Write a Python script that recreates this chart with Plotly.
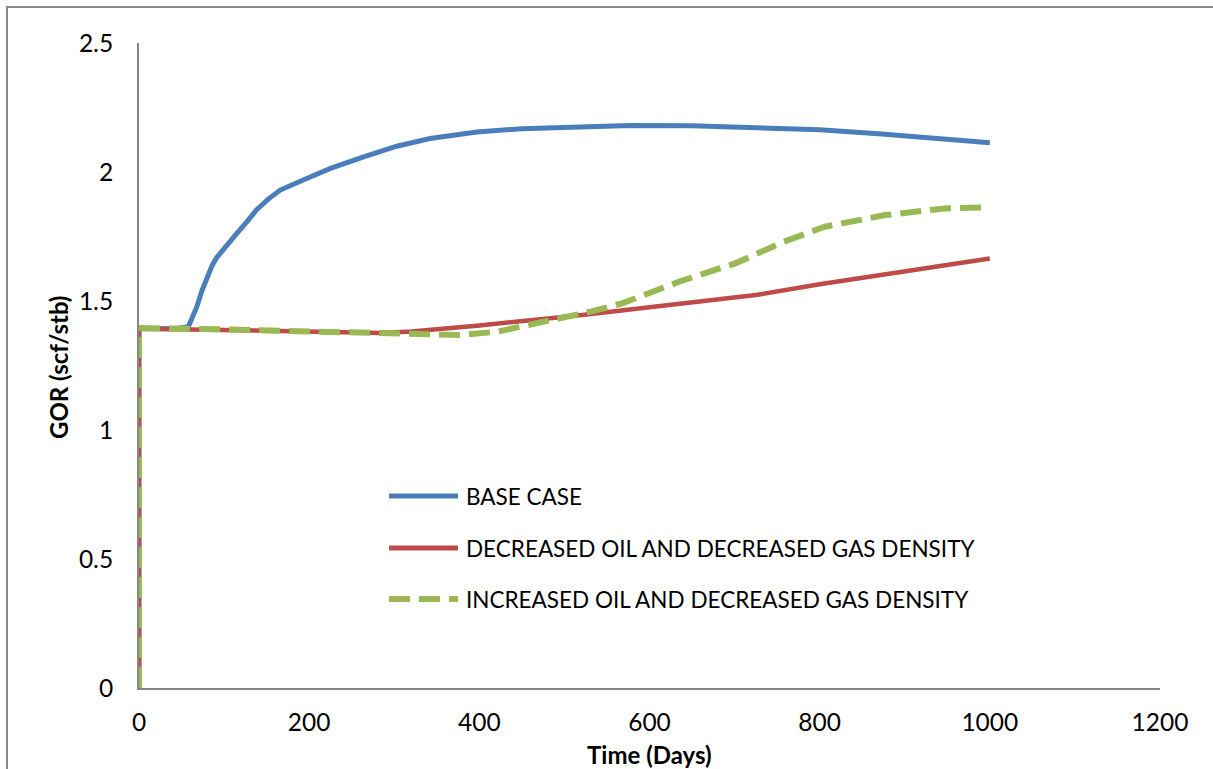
import plotly.graph_objects as go

# ---- data ----
time_base = [0, 0, 20, 40, 58, 63, 68, 74, 80, 86, 91, 103, 115, 127, 138, 152, 166, 193, 225, 264, 303, 342, 370, 397, 450, 500, 577, 650, 746, 800, 873, 950, 1000]
gor_base = [0, 1.395, 1.393, 1.392, 1.40, 1.435, 1.478, 1.54, 1.594, 1.638, 1.667, 1.717, 1.762, 1.808, 1.853, 1.895, 1.93, 1.969, 2.014, 2.059, 2.100, 2.130, 2.145, 2.155, 2.168, 2.174, 2.180, 2.179, 2.170, 2.164, 2.147, 2.128, 2.113]

time_red = [0, 0, 100, 200, 284, 320, 400, 521, 600, 725, 800, 900, 1000]
gor_red = [0, 1.392, 1.388, 1.382, 1.376, 1.382, 1.405, 1.446, 1.475, 1.523, 1.565, 1.615, 1.665]

time_green = [0, 0, 100, 200, 302, 379, 421, 454, 488, 531, 568, 635, 701, 758, 806, 877, 948, 1000]
gor_green = [0, 1.395, 1.39, 1.383, 1.375, 1.368, 1.381, 1.404, 1.426, 1.459, 1.491, 1.575, 1.646, 1.73, 1.788, 1.833, 1.859, 1.863]

series_names = ["BASE CASE",
                "DECREASED OIL AND DECREASED GAS DENSITY",
                "INCREASED OIL AND DECREASED GAS DENSITY"]
x_ticks = [0, 200, 400, 600, 800, 1000, 1200]
y_ticks = [0, 0.5, 1, 1.5, 2, 2.5]
y_tick_text = ["0", "0.5", "1", "1.5", "2", "2.5"]

BLUE = "#4A7EBB"
RED = "#BE4B48"
GREEN = "#98B954"
FONT = "Lato, Carlito, Calibri, sans-serif"

fig = go.Figure()
fig.add_trace(go.Scatter(x=time_base, y=gor_base, mode="lines", name=series_names[0],
                         line=dict(color=BLUE, width=5), showlegend=False))
fig.add_trace(go.Scatter(x=time_red, y=gor_red, mode="lines", name=series_names[1],
                         line=dict(color=RED, width=4.5), showlegend=False))
fig.add_trace(go.Scatter(x=time_green, y=gor_green, mode="lines", name=series_names[2],
                         line=dict(color=GREEN, width=6, dash="21px,9px"),
                         showlegend=False))

L, T, R, B = 139, 43, 53, 81
W, H = 1213, 769
pw, ph = W - L - R, H - T - B

def px_x(px):
    return (px - L) / pw

def px_y(py):
    return (H - B - py) / ph

shapes = [
    # outer chart border
    dict(type="rect", xref="paper", yref="paper",
         x0=px_x(7), x1=px_x(1230), y0=px_y(790), y1=px_y(7),
         line=dict(color="#888888", width=2), layer="below"),
]
annotations = []
legend_y = [496, 548, 599]
legend_colors = [BLUE, RED, GREEN]
legend_dash = ["solid", "solid", "21px,9px"]
legend_width = [5, 5, 6]
for i in range(3):
    shapes.append(dict(type="line", xref="paper", yref="paper",
                       x0=px_x(389), x1=px_x(458), y0=px_y(legend_y[i]), y1=px_y(legend_y[i]),
                       line=dict(color=legend_colors[i], width=legend_width[i], dash=legend_dash[i])))
    annotations.append(dict(xref="paper", yref="paper", x=px_x(464), y=px_y(legend_y[i]),
                            text=series_names[i], showarrow=False, xanchor="left", yanchor="middle",
                            font=dict(family=FONT, size=22.5, color="#000000")))

annotations.append(dict(xref="paper", yref="paper", x=px_x(649), y=px_y(754),
                        text="<b>Time (Days)</b>", showarrow=False, xanchor="center", yanchor="middle",
                        font=dict(family=FONT, size=24, color="#000000")))
annotations.append(dict(xref="paper", yref="paper", x=px_x(58), y=px_y(368),
                        text="<b>GOR (scf/stb)</b>", showarrow=False, xanchor="center", yanchor="middle",
                        textangle=-90, font=dict(family=FONT, size=24, color="#000000")))

fig.update_layout(
    width=W, height=H,
    margin=dict(l=L, r=R, t=T, b=B),
    paper_bgcolor="white", plot_bgcolor="white",
    font=dict(family=FONT, size=24, color="#000000"),
    shapes=shapes, annotations=annotations,
)
fig.update_xaxes(range=[0, 1200], tickvals=x_ticks, showgrid=False, zeroline=False,
                 showline=True, linecolor="#868686", linewidth=2, ticks="",
                 ticklabelstandoff=12, tickfont=dict(family=FONT, size=24.5))
fig.update_yaxes(range=[0, 2.5], tickvals=y_ticks, ticktext=y_tick_text, showgrid=False, zeroline=False,
                 showline=True, linecolor="#868686", linewidth=2, ticks="",
                 ticklabelstandoff=19, tickfont=dict(family=FONT, size=24.5))

fig.write_html("out.html")
